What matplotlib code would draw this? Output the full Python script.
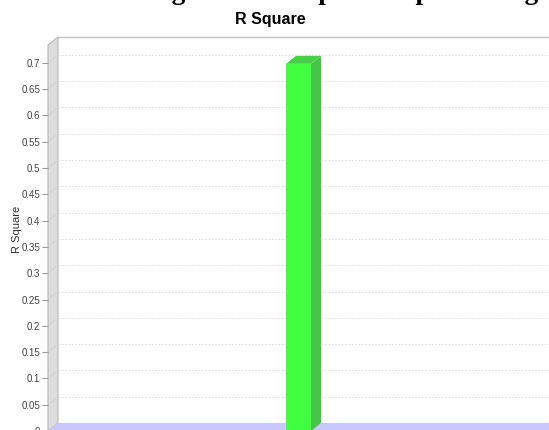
"""
R Square bar chart in the JFreeChart 3D style, saved as out.png.
"""

import numpy as np
import matplotlib
matplotlib.use("Agg")
import matplotlib.pyplot as plt
from matplotlib.patches import Polygon, Rectangle

# Data
categories = ["R Square"]
r_square = [0.698]
y_ticks = [0.0, 0.05, 0.1, 0.15, 0.2, 0.25, 0.3, 0.35,
           0.4, 0.45, 0.5, 0.55, 0.6, 0.65, 0.7]
page_title = "Regression Output Sample Setting"   # partly cut off at the top
chart_title = "R Square"
y_label = "R Square"

# Styling
W, H, DPI = 549, 430, 100
DEPTH_X, DEPTH_Y = 10, 8          # 3D offset in pixels
BAR_WIDTH = 0.05
FRONT = "#40FF40"
SIDE = "#45C545"
TOP = "#48CF48"
WALL = "#DDDDDD"
FLOOR = "#C8C8FF"
GRID = "#DADADA"

fig = plt.figure(figsize=(W / DPI, H / DPI), dpi=DPI)

# front face of the plot area, in pixels from top-left
left_px, right_px, top_px, zero_px = 48, 549, 45, 431
ax = fig.add_axes([left_px / W, (H - zero_px) / H,
                   (right_px - left_px) / W, (zero_px - top_px) / H])
ymax = (zero_px - top_px) / 526.0
ax.set_xlim(-0.5, 0.5)
ax.set_ylim(0, ymax)
ax.patch.set_visible(False)
for s in ax.spines.values():
    s.set_visible(False)

# depth expressed in data units
dx = DEPTH_X / (right_px - left_px) * 1.0
dy = DEPTH_Y / (zero_px - top_px) * ymax
x0, x1 = ax.get_xlim()

# back wall
ax.add_patch(Rectangle((x0 + dx, dy), (x1 - x0), ymax, fc="white",
                       ec="none", clip_on=False, zorder=0))
ax.plot([x0 + dx, x1 + dx + 0.1], [ymax + dy, ymax + dy], color="#C4C4C4",
        lw=1, clip_on=False, zorder=1)

# left wall
ax.add_patch(Polygon([(x0, 0), (x0 + dx, dy), (x0 + dx, ymax + dy), (x0, ymax)],
                     closed=True, fc=WALL, ec="#B8B8B8", lw=0.8,
                     clip_on=False, zorder=1))

# floor
ax.add_patch(Polygon([(x0, 0), (x1 + 0.1, 0), (x1 + 0.1 + dx, dy), (x0 + dx, dy)],
                     closed=True, fc=FLOOR, ec="none", clip_on=False, zorder=1))

# gridlines on the back wall
for v in y_ticks[1:]:
    ax.plot([x0 + dx, x1 + dx], [v + dy, v + dy], color=GRID, lw=0.6,
            ls=(0, (2, 2)), clip_on=False, zorder=2)
    ax.plot([x0, x0 + dx], [v, v + dy], color="#CDCDCD", lw=0.4,
            clip_on=False, zorder=2)

# bars
for i, val in enumerate(r_square):
    bl, br = i - BAR_WIDTH / 2, i + BAR_WIDTH / 2
    ax.add_patch(Polygon([(br, 0), (br + dx, dy), (br + dx, val + dy), (br, val)],
                         closed=True, fc=SIDE, ec="none", clip_on=False, zorder=3))
    ax.add_patch(Polygon([(bl, val), (br, val), (br + dx, val + dy), (bl + dx, val + dy)],
                         closed=True, fc=TOP, ec="none", clip_on=False, zorder=3))
    ax.add_patch(Rectangle((bl, 0), BAR_WIDTH, val, fc=FRONT, ec="none",
                           clip_on=False, zorder=4))

ax.set_xticks([])
ax.set_yticks(y_ticks)
ax.set_yticklabels([f"{t:g}" for t in y_ticks], family="Liberation Sans")
ax.tick_params(axis="y", direction="out", length=4, width=0.8, color="#9A9A9A",
               labelcolor="#444444", labelsize=7, pad=1.5)

ax.set_ylabel(y_label, family="Liberation Sans", fontsize=8, color="#333333")
ax.yaxis.set_label_coords((22 - left_px) / (right_px - left_px),
                          (zero_px - 229) / (zero_px - top_px))

fig.text(270 / W, 1 - 19.5 / H, chart_title, ha="center", va="center",
         family="Liberation Sans", fontweight="bold", fontsize=11.5)

fig.text(140 / W, 1 + 1 / H, page_title, ha="left", va="baseline",
         family="Liberation Serif", fontweight="bold", fontsize=19.5)

fig.savefig("out.png", dpi=DPI)
